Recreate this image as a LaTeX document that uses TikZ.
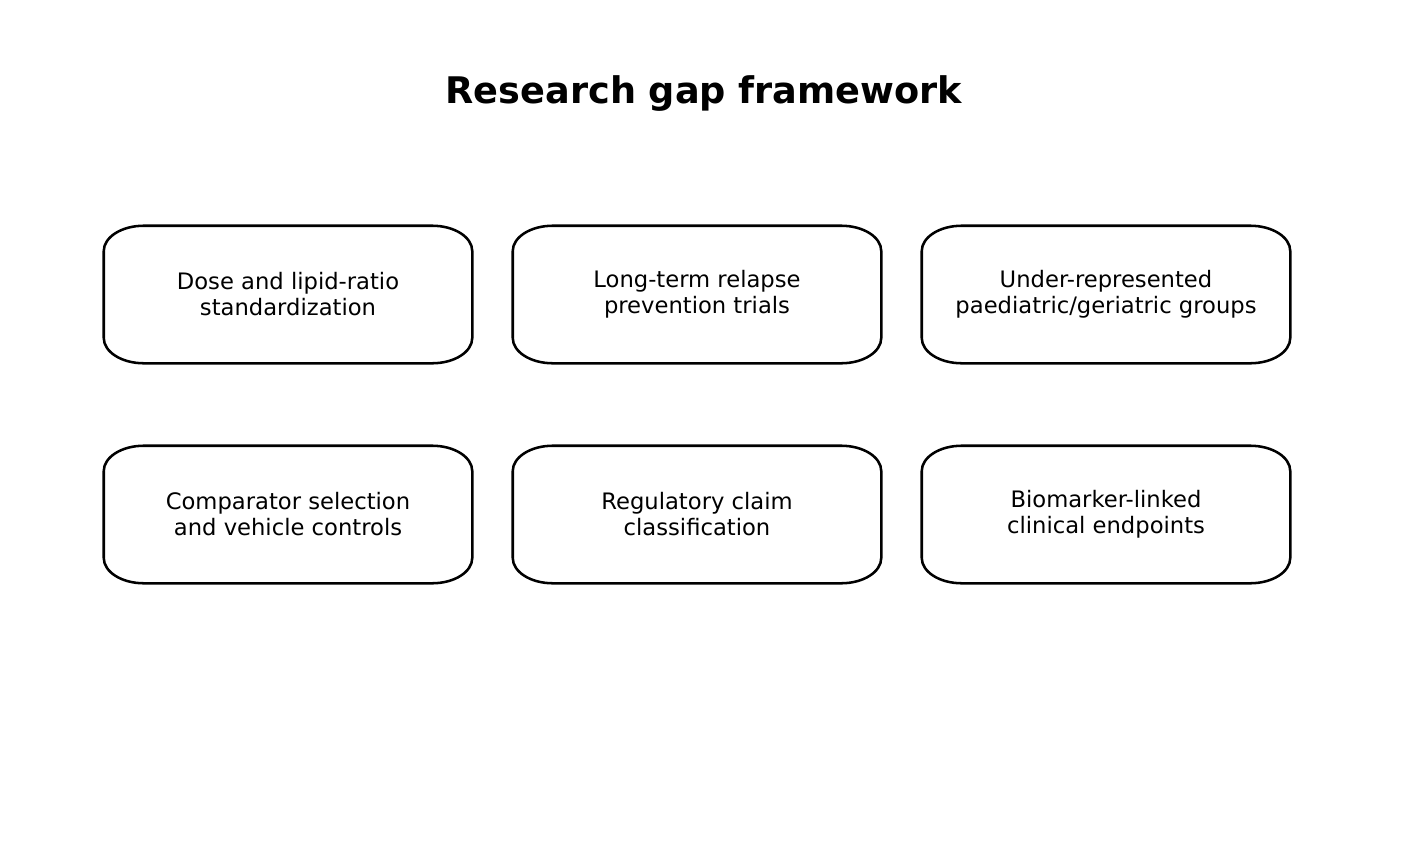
\documentclass[tikz,border=0pt]{standalone}
\usepackage{fontspec}
\setmainfont{DejaVu Sans}
\begin{document}
\begin{tikzpicture}[x=0.75pt,y=-0.75pt,
  gapbox/.style={minimum width=276pt, minimum height=102.75pt, align=center, font=\fontsize{17}{19.5}\selectfont, inner sep=0pt},
  boxline/.style={draw=black, line width=1.9pt}]
\newcommand{\gapframe}[1]{%
  \draw[boxline] ([xshift=30pt]#1.north west) -- ([xshift=-30pt]#1.north east)
    arc[start angle=90,end angle=0,x radius=30pt,y radius=19pt]
    -- ([yshift=19pt]#1.south east)
    arc[start angle=0,end angle=-90,x radius=30pt,y radius=19pt]
    -- ([xshift=30pt]#1.south west)
    arc[start angle=270,end angle=180,x radius=30pt,y radius=19pt]
    -- ([yshift=-19pt]#1.north west)
    arc[start angle=180,end angle=90,x radius=30pt,y radius=19pt] -- cycle;}
\useasboundingbox (0,0) rectangle (1407,858);
\node[font=\fontsize{27.5}{30}\selectfont\bfseries] (title) at (704,94) {Research gap framework};
\node[gapbox] (a) at (288,294.5) {Dose and lipid-ratio\\standardization};
\node[gapbox] (b) at (697,294.5) {Long-term relapse\\prevention trials};
\node[gapbox] (c) at (1106,294.5) {Under-represented\\paediatric/geriatric groups};
\node[gapbox] (d) at (288,514.5) {Comparator selection\\and vehicle controls};
\node[gapbox] (e) at (697,514.5) {Regulatory claim\\classification};
\node[gapbox] (f) at (1106,514.5) {Biomarker-linked\\clinical endpoints};
\gapframe{a}\gapframe{b}\gapframe{c}\gapframe{d}\gapframe{e}\gapframe{f}
\end{tikzpicture}
\end{document}
